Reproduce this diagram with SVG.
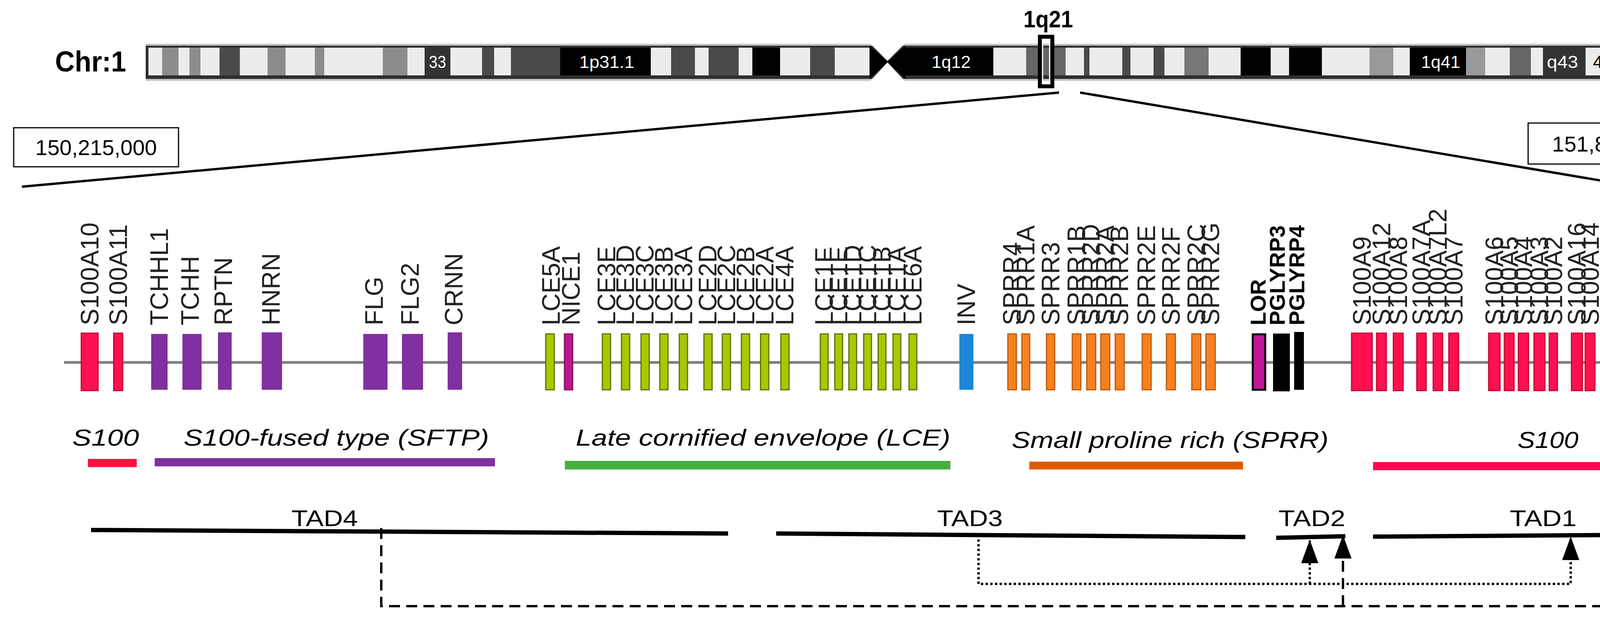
<svg xmlns="http://www.w3.org/2000/svg" width="4411" height="1590" viewBox="0 0 4411 1590">
<style>
.L{fill:#ececec}.G{fill:#8c8c8c}.D{fill:#4a4a4a}.B{fill:#000}
.bt{font-family:"Liberation Sans",Arial,sans-serif;font-size:44px;fill:#fff}
.gl{font-family:"Liberation Sans",Arial,sans-serif;font-size:64px;fill:#222}
.glb{font-family:"Liberation Sans",Arial,sans-serif;font-size:56px;font-weight:bold;fill:#000}
.fam{font-family:"Liberation Sans",Arial,sans-serif;font-size:60px;font-style:italic;fill:#000}
.tad{font-family:"Liberation Sans",Arial,sans-serif;font-size:58px;fill:#000}
.num{font-family:"Liberation Sans",Arial,sans-serif;font-size:56px;fill:#000}
.s100{fill:#ff1050;stroke:#c8002e;stroke-width:3}
.sf{fill:#8030a0}
.lce{fill:#a8c800;stroke:#5f7000;stroke-width:3}
.spr{fill:#f5821f;stroke:#c0560a;stroke-width:3}
</style>
<defs>
<marker id="ah" markerWidth="60" markerHeight="44" refX="58" refY="22" orient="auto" markerUnits="userSpaceOnUse" viewBox="0 0 60 44">
<polygon points="0,0 60,22 0,44" fill="#000"/>
</marker>
</defs>

<g id="chromosome">
<text x="141" y="183" font-family="Liberation Sans,Arial,sans-serif" font-size="74" font-weight="bold" textLength="182" lengthAdjust="spacingAndGlyphs">Chr:1</text>
<rect x="373" y="112" width="3777" height="95" fill="#c4c4c4"/>
<rect x="373" y="117" width="3777" height="85" fill="#2e2e2e"/>
<g transform="translate(0,122)">
<rect class="L" x="380" width="35" height="71"/><rect class="G" x="415" width="42" height="71"/><rect class="L" x="457" width="28" height="71"/><rect class="G" x="485" width="28" height="71"/><rect class="L" x="513" width="49" height="71"/><rect class="D" x="562" width="52" height="71"/><rect class="L" x="614" width="71" height="71"/><rect class="G" x="685" width="46" height="71"/><rect class="L" x="731" width="75" height="71"/><rect class="G" x="806" width="24" height="71"/><rect class="L" x="830" width="150" height="71"/><rect class="G" x="980" width="63" height="71"/><rect class="L" x="1043" width="44" height="71"/><rect fill="#333" x="1087" width="66" height="71"/><rect class="L" x="1153" width="81" height="71"/><rect class="D" x="1234" width="31" height="71"/><rect class="L" x="1265" width="43" height="71"/><rect class="D" x="1308" width="126" height="71"/><rect class="B" x="1434" width="232" height="71"/><rect class="L" x="1666" width="52" height="71"/><rect class="D" x="1718" width="61" height="71"/><rect class="L" x="1779" width="35" height="71"/><rect class="D" x="1814" width="77" height="71"/><rect class="L" x="1891" width="35" height="71"/><rect class="B" x="1926" width="71" height="71"/><rect class="L" x="1997" width="77" height="71"/><rect class="D" x="2074" width="63" height="71"/><rect class="L" x="2137" width="89" height="71"/>
<rect class="B" x="2318" width="225" height="71"/><rect class="L" x="2543" width="84" height="71"/><rect fill="#666" x="2627" width="101" height="71"/><rect class="L" x="2728" width="47" height="71"/><rect class="D" x="2775" width="14" height="71"/><rect class="L" x="2789" width="84" height="71"/><rect class="D" x="2873" width="21" height="71"/><rect class="L" x="2894" width="59" height="71"/><rect class="D" x="2953" width="28" height="71"/><rect class="L" x="2981" width="51" height="71"/><rect fill="#777" x="3032" width="62" height="71"/><rect class="L" x="3094" width="82" height="71"/><rect class="B" x="3176" width="77" height="71"/><rect class="L" x="3253" width="47" height="71"/><rect class="B" x="3300" width="84" height="71"/><rect class="L" x="3384" width="122" height="71"/><rect fill="#999" x="3506" width="61" height="71"/><rect class="L" x="3567" width="42" height="71"/><rect class="B" x="3609" width="144" height="71"/><rect fill="#999" x="3753" width="49" height="71"/><rect class="L" x="3802" width="63" height="71"/><rect fill="#666" x="3865" width="54" height="71"/><rect class="L" x="3919" width="31" height="71"/><rect fill="#333" x="3950" width="109" height="71"/><rect class="L" x="4059" width="84" height="71"/>
</g>
<polygon points="2226,110 2318,110 2272,156" fill="#fff"/>
<polygon points="2226,209 2318,209 2272,160" fill="#fff"/>
<polygon points="2226,117 2272,158 2226,202" fill="#000"/>
<polygon points="2318,117 2272,158 2318,202" fill="#000"/>
<text class="bt" x="1098" y="174" textLength="44" lengthAdjust="spacingAndGlyphs">33</text>
<text class="bt" x="1483" y="174" textLength="141" lengthAdjust="spacingAndGlyphs">1p31.1</text>
<text class="bt" x="2385" y="174" textLength="100" lengthAdjust="spacingAndGlyphs">1q12</text>
<text class="bt" x="3638" y="174" textLength="100" lengthAdjust="spacingAndGlyphs">1q41</text>
<text class="bt" x="3960" y="174" textLength="80" lengthAdjust="spacingAndGlyphs">q43</text>
<text class="bt" x="4078" y="174" style="fill:#000" textLength="50" lengthAdjust="spacingAndGlyphs">44</text>
</g>

<g id="locus-1q21">
<text x="2620" y="70" font-family="Liberation Sans,Arial,sans-serif" font-size="62" font-weight="bold" textLength="127" lengthAdjust="spacingAndGlyphs">1q21</text>
<rect x="2662" y="94" width="32" height="127" fill="none" stroke="#000" stroke-width="10"/>
<rect x="2669" y="101" width="18" height="113" fill="none" stroke="#fff" stroke-width="3"/>
</g>

<g id="start-box">
<rect x="35" y="327" width="422" height="100" fill="#fff" stroke="#000" stroke-width="3"/>
<text class="num" x="246" y="397" text-anchor="middle">150,215,000</text>
</g>
<g id="end-box">
<rect x="3912" y="315" width="434" height="105" fill="#fff" stroke="#000" stroke-width="3"/>
<text class="num" x="4129" y="388" text-anchor="middle">151,875,000</text>
</g>

<g id="zoom-lines" stroke="#000" stroke-width="6" fill="none">
<line x1="2711" y1="237" x2="56" y2="478"/>
<line x1="2765" y1="237" x2="4191" y2="478"/>
</g>
<line x1="4361" y1="464" x2="4361" y2="1055" stroke="#9070b0" stroke-width="3"/>

<g id="gene-track">
<line x1="164" y1="928" x2="4282" y2="928" stroke="#808080" stroke-width="7"/>
<g id="genes-s100-left">
<rect class="s100" x="208" y="853" width="43" height="147"/>
<rect class="s100" x="291" y="853" width="23" height="147"/>
</g>
<g id="genes-sftp">
<rect class="sf" x="387" y="855" width="42" height="143"/>
<rect class="sf" x="467" y="855" width="49" height="143"/>
<rect class="sf" x="558" y="851" width="35" height="147"/>
<rect class="sf" x="670" y="851" width="52" height="147"/>
<rect class="sf" x="930" y="855" width="62" height="143"/>
<rect class="sf" x="1029" y="855" width="54" height="143"/>
<rect class="sf" x="1146" y="851" width="37" height="147"/>
</g>
<g id="genes-lce">
<rect class="lce" x="1397" y="855" width="22" height="143"/>
<rect x="1445" y="855" width="21" height="143" fill="#c0168c" stroke="#80105e" stroke-width="3"/>
<rect class="lce" x="1542" y="855" width="21" height="143"/><rect class="lce" x="1591" y="855" width="21" height="143"/><rect class="lce" x="1641" y="855" width="21" height="143"/><rect class="lce" x="1689" y="855" width="21" height="143"/><rect class="lce" x="1739" y="855" width="21" height="143"/>
<rect class="lce" x="1802" y="855" width="21" height="143"/><rect class="lce" x="1849" y="855" width="21" height="143"/><rect class="lce" x="1898" y="855" width="21" height="143"/><rect class="lce" x="1947" y="855" width="21" height="143"/><rect class="lce" x="1999" y="855" width="21" height="143"/>
<rect class="lce" x="2100" y="855" width="20" height="143"/><rect class="lce" x="2137" y="855" width="20" height="143"/><rect class="lce" x="2173" y="855" width="20" height="143"/><rect class="lce" x="2211" y="855" width="20" height="143"/><rect class="lce" x="2248" y="855" width="20" height="143"/><rect class="lce" x="2286" y="855" width="20" height="143"/><rect class="lce" x="2327" y="855" width="20" height="143"/>
</g>
<g id="gene-inv"><rect x="2456" y="855" width="36" height="143" fill="#1b87d6"/></g>
<g id="genes-sprr">
<rect class="spr" x="2580" y="855" width="22" height="143"/><rect class="spr" x="2616" y="855" width="20" height="143"/><rect class="spr" x="2679" y="855" width="21" height="143"/><rect class="spr" x="2745" y="855" width="22" height="143"/><rect class="spr" x="2782" y="855" width="23" height="143"/><rect class="spr" x="2818" y="855" width="23" height="143"/><rect class="spr" x="2855" y="855" width="23" height="143"/><rect class="spr" x="2924" y="855" width="23" height="143"/><rect class="spr" x="2986" y="855" width="23" height="143"/><rect class="spr" x="3051" y="855" width="23" height="143"/><rect class="spr" x="3087" y="855" width="24" height="143"/>
</g>
<g id="genes-lor-pglyrp">
<rect x="3207" y="856" width="32" height="142" fill="#c0179a" stroke="#000" stroke-width="5"/>
<rect x="3259" y="854" width="43" height="148" fill="#000"/>
<rect x="3313" y="850" width="25" height="148" fill="#000"/>
</g>
<g id="genes-s100-right">
<rect class="s100" x="3460" y="853" width="53" height="147"/><rect class="s100" x="3524" y="853" width="25" height="147"/><rect class="s100" x="3567" y="853" width="25" height="147"/><rect class="s100" x="3627" y="853" width="24" height="147"/><rect class="s100" x="3669" y="853" width="24" height="147"/><rect class="s100" x="3709" y="853" width="25" height="147"/>
<rect class="s100" x="3811" y="853" width="29" height="147"/><rect class="s100" x="3851" y="853" width="25" height="147"/><rect class="s100" x="3887" y="853" width="26" height="147"/><rect class="s100" x="3927" y="853" width="28" height="147"/><rect class="s100" x="3966" y="853" width="21" height="147"/><rect class="s100" x="4023" y="853" width="28" height="147"/><rect class="s100" x="4058" y="853" width="25" height="147"/><rect class="s100" x="4116" y="853" width="51" height="147"/><rect class="s100" x="4173" y="853" width="19" height="147"/>
</g>
<g id="gene-labels">
<text class="gl" transform="translate(252,833) rotate(-90)">S100A10</text>
<text class="gl" transform="translate(325,833) rotate(-90)">S100A11</text>
<text class="gl" transform="translate(430,833) rotate(-90)">TCHHL1</text>
<text class="gl" transform="translate(509,833) rotate(-90)">TCHH</text>
<text class="gl" transform="translate(594,833) rotate(-90)">RPTN</text>
<text class="gl" transform="translate(716,833) rotate(-90)">HNRN</text>
<text class="gl" transform="translate(980,833) rotate(-90)">FLG</text>
<text class="gl" transform="translate(1072,833) rotate(-90)">FLG2</text>
<text class="gl" transform="translate(1184,833) rotate(-90)">CRNN</text>
<text class="gl" transform="translate(1433,833) rotate(-90)">LCE5A</text>
<text class="gl" transform="translate(1484,833) rotate(-90)">NICE1</text>
<text class="gl" transform="translate(1575,833) rotate(-90)">LCE3E</text>
<text class="gl" transform="translate(1623,833) rotate(-90)">LCE3D</text>
<text class="gl" transform="translate(1673,833) rotate(-90)">LCE3C</text>
<text class="gl" transform="translate(1722,833) rotate(-90)">LCE3B</text>
<text class="gl" transform="translate(1772,833) rotate(-90)">LCE3A</text>
<text class="gl" transform="translate(1834,833) rotate(-90)">LCE2D</text>
<text class="gl" transform="translate(1882,833) rotate(-90)">LCE2C</text>
<text class="gl" transform="translate(1931,833) rotate(-90)">LCE2B</text>
<text class="gl" transform="translate(1980,833) rotate(-90)">LCE2A</text>
<text class="gl" transform="translate(2031,833) rotate(-90)">LCE4A</text>
<text class="gl" transform="translate(2132,833) rotate(-90)">LCE1F</text>
<text class="gl" transform="translate(2169,833) rotate(-90)">LCE1E</text>
<text class="gl" transform="translate(2205,833) rotate(-90)">LCE1D</text>
<text class="gl" transform="translate(2243,833) rotate(-90)">LCE1C</text>
<text class="gl" transform="translate(2280,833) rotate(-90)">LCE1B</text>
<text class="gl" transform="translate(2318,833) rotate(-90)">LCE1A</text>
<text class="gl" transform="translate(2359,833) rotate(-90)">LCE6A</text>
<text class="gl" transform="translate(2496,833) rotate(-90)">INV</text>
<text class="gl" transform="translate(2613,833) rotate(-90)">SPRR4</text>
<text class="gl" transform="translate(2648,833) rotate(-90)">SPRR1A</text>
<text class="gl" transform="translate(2712,833) rotate(-90)">SPRR3</text>
<text class="gl" transform="translate(2778,833) rotate(-90)">SPRR1B</text>
<text class="gl" transform="translate(2815,833) rotate(-90)">SPRR2D</text>
<text class="gl" transform="translate(2851,833) rotate(-90)">SPRR2A</text>
<text class="gl" transform="translate(2888,833) rotate(-90)">SPRR2B</text>
<text class="gl" transform="translate(2957,833) rotate(-90)">SPRR2E</text>
<text class="gl" transform="translate(3020,833) rotate(-90)">SPRR2F</text>
<text class="gl" transform="translate(3085,833) rotate(-90)">SPRR2C</text>
<text class="gl" transform="translate(3121,833) rotate(-90)">SPRR2G</text>
<text class="glb" transform="translate(3240,833) rotate(-90)">LOR</text>
<text class="glb" transform="translate(3289,833) rotate(-90)">PGLYRP3</text>
<text class="glb" transform="translate(3339,833) rotate(-90)">PGLYRP4</text>
<text class="gl" transform="translate(3509,833) rotate(-90)">S100A9</text>
<text class="gl" transform="translate(3559,833) rotate(-90)">S100A12</text>
<text class="gl" transform="translate(3602,833) rotate(-90)">S100A8</text>
<text class="gl" transform="translate(3661,833) rotate(-90)">S100A7A</text>
<text class="gl" transform="translate(3703,833) rotate(-90)">S100A7L2</text>
<text class="gl" transform="translate(3744,833) rotate(-90)">S100A7</text>
<text class="gl" transform="translate(3848,833) rotate(-90)">S100A6</text>
<text class="gl" transform="translate(3886,833) rotate(-90)">S100A5</text>
<text class="gl" transform="translate(3922,833) rotate(-90)">S100A4</text>
<text class="gl" transform="translate(3963,833) rotate(-90)">S100A3</text>
<text class="gl" transform="translate(3999,833) rotate(-90)">S100A2</text>
<text class="gl" transform="translate(4059,833) rotate(-90)">S100A16</text>
<text class="gl" transform="translate(4093,833) rotate(-90)">S100A14</text>
<text class="gl" transform="translate(4164,833) rotate(-90)">S100A13</text>
<text class="gl" transform="translate(4205,833) rotate(-90)">S100A1</text>
</g>
</g>

<g id="family-s100-left"><text class="fam" x="185" y="1141" textLength="171" lengthAdjust="spacingAndGlyphs">S100</text><rect x="225" y="1175" width="125" height="21" fill="#ff1040"/></g>
<g id="family-sftp"><text class="fam" x="470" y="1141" textLength="782" lengthAdjust="spacingAndGlyphs">S100-fused type  (SFTP)</text><rect x="396" y="1173" width="871" height="21" fill="#7f2fa0"/></g>
<g id="family-lce"><text class="fam" x="1474" y="1141" textLength="959" lengthAdjust="spacingAndGlyphs">Late cornified envelope (LCE)</text><rect x="1446" y="1180" width="987" height="22" fill="#46b03c"/></g>
<g id="family-sprr"><text class="fam" x="2590" y="1147" textLength="811" lengthAdjust="spacingAndGlyphs">Small proline rich (SPRR)</text><rect x="2635" y="1182" width="547" height="20" fill="#e05a00"/></g>
<g id="family-s100-right"><text class="fam" x="3885" y="1147" textLength="156" lengthAdjust="spacingAndGlyphs">S100</text><rect x="3515" y="1183" width="797" height="21" fill="#ff0a50"/></g>

<g id="tad4"><text class="tad" x="746" y="1347" textLength="170" lengthAdjust="spacingAndGlyphs">TAD4</text><line x1="233" y1="1357" x2="1864" y2="1366" stroke="#000" stroke-width="11"/></g>
<g id="tad3"><text class="tad" x="2399" y="1347" textLength="168" lengthAdjust="spacingAndGlyphs">TAD3</text><line x1="1987" y1="1366" x2="3188" y2="1375" stroke="#000" stroke-width="11"/></g>
<g id="tad2"><text class="tad" x="3273" y="1347" textLength="171" lengthAdjust="spacingAndGlyphs">TAD2</text><line x1="3267" y1="1377" x2="3444" y2="1373" stroke="#000" stroke-width="11"/></g>
<g id="tad1"><text class="tad" x="3865" y="1347" textLength="171" lengthAdjust="spacingAndGlyphs">TAD1</text><line x1="3515" y1="1374" x2="4411" y2="1368" stroke="#000" stroke-width="11"/></g>

<g id="connectors" fill="none" stroke="#000" stroke-width="6">
<path d="M976,1352 V1552 H4178 V1366" stroke-dasharray="28 16" marker-end="url(#ah)"/>
<path d="M3438,1552 V1372" stroke-dasharray="28 16" marker-end="url(#ah)"/>
<path d="M2505,1381 V1495 H4021 V1376" stroke-dasharray="6 6" marker-end="url(#ah)"/>
<path d="M3353,1495 V1384" stroke-dasharray="6 6" marker-end="url(#ah)"/>
</g>
</svg>
